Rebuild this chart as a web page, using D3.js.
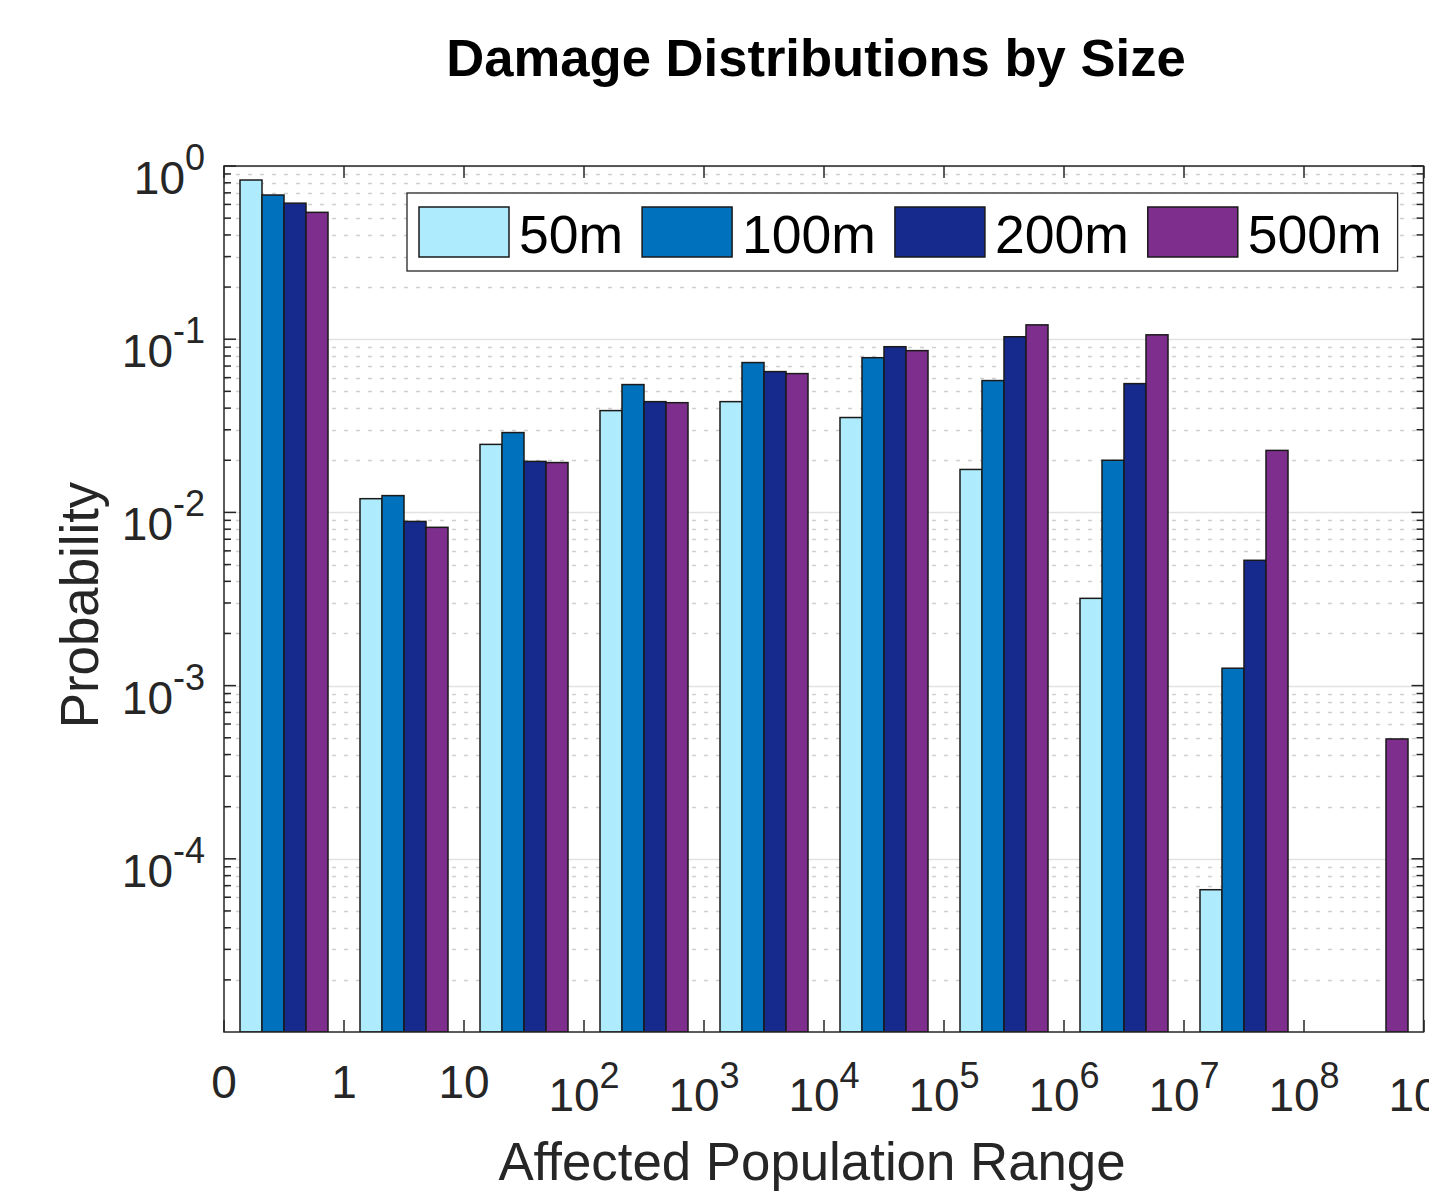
<!DOCTYPE html>
<html>
<head>
<meta charset="utf-8">
<script src="https://cdn.jsdelivr.net/npm/d3@7"></script>
<style>
  html, body { margin: 0; padding: 0; background: #fff; }
  svg { display: block; }
  text { font-family: "Liberation Sans", Arial, Helvetica, sans-serif; }
</style>
</head>
<body>
<svg id="chart" width="1429" height="1192"></svg>
<script>
// ---------- data ----------
const binLabels = [["0",null],["1",null],["10",null],["10","2"],["10","3"],["10","4"],["10","5"],["10","6"],["10","7"],["10","8"],["10","9"]];
const series = ["50m", "100m", "200m", "500m"];
const seriesColors = ["#aeebfc", "#0072bd", "#152a8c", "#7e2f8e"];
const bins = ["0-1", "1-10", "10-1e2", "1e2-1e3", "1e3-1e4", "1e4-1e5", "1e5-1e6", "1e6-1e7", "1e7-1e8", "1e8-1e9"];
const values50m  = [0.83, 0.0120, 0.0247, 0.0387, 0.0436, 0.0353, 0.0177, 0.00319, 0.0000663, 0];
const values100m = [0.68, 0.0125, 0.0289, 0.0547, 0.0733, 0.0782, 0.0577, 0.0200, 0.00126, 0];
const values200m = [0.61, 0.00887, 0.0197, 0.0436, 0.0650, 0.0905, 0.1033, 0.0554, 0.00529, 0];
const values500m = [0.54, 0.0082, 0.0194, 0.0430, 0.0633, 0.0859, 0.121, 0.106, 0.0228, 0.000492];
const yTickExps = [0, -1, -2, -3, -4];
const titleText = "Damage Distributions by Size";
const xLabelText = "Affected Population Range";
const yLabelText = "Probability";

const allValues = [values50m, values100m, values200m, values500m];

// ---------- layout ----------
const svg = d3.select("#chart");
const L = 224, R = 1423.5, T = 166, B = 1032;

const x = d3.scaleLinear().domain([0, 10]).range([L, L + 1200]);
const xBand = d3.scaleBand().domain(bins).range([L, L + 1200])
  .paddingInner(32 / 120).paddingOuter(16 / 120);
const xSub = d3.scaleBand().domain(series).range([0, xBand.bandwidth()]);
const y = d3.scaleLog().domain([1e-5, 1]).range([B, T]);

svg.append("defs").append("clipPath").attr("id", "plotclip")
  .append("rect").attr("x", L).attr("y", T).attr("width", R - L).attr("height", B - T);

// ---------- grid ----------
const grid = svg.append("g").attr("clip-path", "url(#plotclip)");
const minorVals = [];
for (let e = -5; e < 0; e++) for (let k = 2; k <= 9; k++) minorVals.push(k * Math.pow(10, e));
grid.selectAll("line.minor").data(minorVals).join("line")
  .attr("class", "minor")
  .attr("x1", L).attr("x2", R)
  .attr("y1", d => Math.round(y(d)) + 0.5).attr("y2", d => Math.round(y(d)) + 0.5)
  .attr("stroke", "#cfcfcf").attr("stroke-width", 1.3)
  .attr("stroke-dasharray", "4,8");
grid.selectAll("line.major").data(yTickExps.map(e => Math.pow(10, e))).join("line")
  .attr("class", "major")
  .attr("x1", L).attr("x2", R)
  .attr("y1", d => Math.round(y(d)) + 0.5).attr("y2", d => Math.round(y(d)) + 0.5)
  .attr("stroke", "#e2e2e2").attr("stroke-width", 1.3);

// ---------- bars ----------
const barData = [];
bins.forEach((b, i) => series.forEach((s, j) => {
  const v = allValues[j][i];
  if (v > 0) barData.push({ bin: b, s, j, v });
}));
svg.append("g").attr("clip-path", "url(#plotclip)")
  .selectAll("rect").data(barData).join("rect")
  .attr("x", d => xBand(d.bin) + xSub(d.s))
  .attr("width", xSub.bandwidth())
  .attr("y", d => y(d.v))
  .attr("height", d => B - y(d.v))
  .attr("fill", d => seriesColors[d.j])
  .attr("stroke", "#1a1a1a").attr("stroke-width", 1.5);

// ---------- axes box & ticks ----------
const axisColor = "#262626";
const ax = svg.append("g");
ax.append("rect").attr("x", L).attr("y", T).attr("width", R - L).attr("height", B - T)
  .attr("fill", "none").attr("stroke", axisColor).attr("stroke-width", 1.5);

const xTickVals = d3.range(0, 11);
ax.selectAll("line.xtb").data(xTickVals).join("line")
  .attr("x1", d => x(d)).attr("x2", d => x(d))
  .attr("y1", B).attr("y2", B - 12)
  .attr("stroke", axisColor).attr("stroke-width", 1.5);
ax.selectAll("line.xtt").data(xTickVals).join("line")
  .attr("x1", d => x(d)).attr("x2", d => x(d))
  .attr("y1", T).attr("y2", T + 12)
  .attr("stroke", axisColor).attr("stroke-width", 1.5);

const majors = yTickExps.map(e => Math.pow(10, e));
[L, R].forEach(x0 => {
  const dir = x0 === L ? 1 : -1;
  ax.append("g").selectAll("line").data(majors).join("line")
    .attr("x1", x0).attr("x2", x0 + dir * 12)
    .attr("y1", d => y(d)).attr("y2", d => y(d))
    .attr("stroke", axisColor).attr("stroke-width", 1.5);
  ax.append("g").selectAll("line").data(minorVals).join("line")
    .attr("x1", x0).attr("x2", x0 + dir * 7)
    .attr("y1", d => y(d)).attr("y2", d => y(d))
    .attr("stroke", axisColor).attr("stroke-width", 1.5);
});

// y tick labels
const yl = svg.append("g").attr("fill", "#262626");
yTickExps.forEach(e => {
  const t = yl.append("text")
    .attr("x", 205).attr("y", y(Math.pow(10, e)) + 28)
    .attr("text-anchor", "end").attr("font-size", 46);
  t.append("tspan").text("10");
  t.append("tspan").attr("font-size", 36).attr("dy", -24).text(e === 0 ? "0" : "-" + Math.abs(e));
});

// x tick labels
const xl = svg.append("g").attr("fill", "#262626");
binLabels.forEach((lab, i) => {
  const t = xl.append("text").attr("x", x(i)).attr("text-anchor", "middle").attr("font-size", 46);
  if (lab[1] === null) {
    t.attr("y", 1098).text(lab[0]);
  } else {
    t.attr("y", 1111);
    t.append("tspan").text(lab[0]);
    t.append("tspan").attr("font-size", 36).attr("dy", -23).text(lab[1]);
  }
});

// ---------- labels ----------
svg.append("text").attr("x", 816).attr("y", 76).attr("text-anchor", "middle")
  .attr("font-size", 52.6).attr("font-weight", "bold").attr("fill", "#000").text(titleText);
svg.append("text").attr("x", 812).attr("y", 1180).attr("text-anchor", "middle")
  .attr("font-size", 52.8).attr("fill", "#262626").text(xLabelText);
svg.append("text").attr("transform", "translate(98,605) rotate(-90)").attr("text-anchor", "middle")
  .attr("font-size", 52.8).attr("fill", "#262626").text(yLabelText);

// ---------- legend ----------
const lg = svg.append("g");
const lgBox = lg.append("rect").attr("x", 407).attr("y", 193).attr("height", 78)
  .attr("fill", "#fff").attr("stroke", axisColor).attr("stroke-width", 1.3);
let cx = 419;
series.forEach((s, j) => {
  lg.append("rect").attr("x", cx).attr("y", 207).attr("width", 90).attr("height", 50)
    .attr("fill", seriesColors[j]).attr("stroke", "#1a1a1a").attr("stroke-width", 1.5);
  const t = lg.append("text").attr("x", cx + 100).attr("y", 253)
    .attr("font-size", 53.5).attr("fill", "#000").text(s);
  const w = t.node().getComputedTextLength();
  cx = cx + 100 + w + 19;
});
lgBox.attr("width", cx - 19 + 16 - 407);
</script>
</body>
</html>
